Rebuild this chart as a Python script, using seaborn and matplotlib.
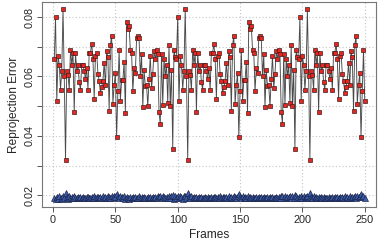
import numpy as np
import matplotlib
matplotlib.use("Agg")
import matplotlib.pyplot as plt
import seaborn as sns

# frame index, one value per frame
frames = np.arange(1, 251)

# reprojection error of the first method (red squares)
error_red = [
    0.0660, 0.0800, 0.0516, 0.0670, 0.0640, 0.0556, 0.0620, 0.0827, 0.0600, 0.0320,
    0.0620, 0.0606, 0.0556, 0.0690, 0.0640, 0.0680, 0.0480, 0.0680, 0.0620, 0.0640,
    0.0580, 0.0556, 0.0640, 0.0640, 0.0620, 0.0590, 0.0630, 0.0556, 0.0680, 0.0680,
    0.0710, 0.0660, 0.0525, 0.0670, 0.0680, 0.0610, 0.0585, 0.0545, 0.0565, 0.0585,
    0.0647, 0.0570, 0.0685, 0.0665, 0.0485, 0.0705, 0.0738, 0.0508, 0.0570, 0.0612,
    0.0395, 0.0550, 0.0690, 0.0518, 0.0587, 0.0587, 0.0650, 0.0478, 0.0782, 0.0760,
    0.0770, 0.0690, 0.0680, 0.0550, 0.0630, 0.0612, 0.0728, 0.0738, 0.0730, 0.0600,
    0.0675, 0.0497, 0.0622, 0.0568, 0.0570, 0.0500, 0.0590, 0.0670, 0.0560, 0.0610,
    0.0685, 0.0660, 0.0690, 0.0675, 0.0480, 0.0440, 0.0675, 0.0505, 0.0660, 0.0600,
    0.0640, 0.0510, 0.0705, 0.0500, 0.0623, 0.0356, 0.0690, 0.0665, 0.0660, 0.0800,
    0.0516, 0.0670, 0.0640, 0.0556, 0.0620, 0.0827, 0.0600, 0.0320, 0.0620, 0.0606,
    0.0556, 0.0690, 0.0640, 0.0680, 0.0480, 0.0680, 0.0620, 0.0640, 0.0580, 0.0556,
    0.0640, 0.0640, 0.0620, 0.0590, 0.0630, 0.0556, 0.0680, 0.0680, 0.0710, 0.0660,
    0.0525, 0.0670, 0.0680, 0.0610, 0.0585, 0.0545, 0.0565, 0.0585, 0.0647, 0.0570,
    0.0685, 0.0665, 0.0485, 0.0705, 0.0738, 0.0508, 0.0570, 0.0612, 0.0395, 0.0550,
    0.0690, 0.0518, 0.0587, 0.0587, 0.0650, 0.0478, 0.0782, 0.0760, 0.0770, 0.0690,
    0.0680, 0.0550, 0.0630, 0.0612, 0.0728, 0.0738, 0.0730, 0.0600, 0.0675, 0.0497,
    0.0622, 0.0568, 0.0570, 0.0500, 0.0590, 0.0670, 0.0560, 0.0610, 0.0685, 0.0660,
    0.0690, 0.0675, 0.0480, 0.0440, 0.0675, 0.0505, 0.0660, 0.0600, 0.0640, 0.0510,
    0.0705, 0.0500, 0.0623, 0.0356, 0.0690, 0.0665, 0.0660, 0.0800, 0.0516, 0.0670,
    0.0640, 0.0556, 0.0620, 0.0827, 0.0600, 0.0320, 0.0620, 0.0606, 0.0556, 0.0690,
    0.0640, 0.0680, 0.0480, 0.0680, 0.0620, 0.0640, 0.0580, 0.0556, 0.0640, 0.0640,
    0.0620, 0.0590, 0.0630, 0.0556, 0.0680, 0.0680, 0.0710, 0.0660, 0.0525, 0.0670,
    0.0680, 0.0610, 0.0585, 0.0545, 0.0565, 0.0585, 0.0647, 0.0570, 0.0685, 0.0665,
    0.0485, 0.0705, 0.0738, 0.0508, 0.0570, 0.0612, 0.0395, 0.0550, 0.0690, 0.0518,
]

# reprojection error of the second method (blue triangles)
error_blue = [
    0.0190, 0.0186, 0.0194, 0.0188, 0.0196, 0.0192, 0.0187, 0.0198, 0.0191, 0.0206,
    0.0194, 0.0188, 0.0196, 0.0190, 0.0193, 0.0189, 0.0197, 0.0191, 0.0192, 0.0195,
    0.0190, 0.0193, 0.0191, 0.0194, 0.0192, 0.0190, 0.0193, 0.0195, 0.0191, 0.0189,
    0.0194, 0.0192, 0.0196, 0.0190, 0.0193, 0.0195, 0.0191, 0.0194, 0.0189, 0.0196,
    0.0192, 0.0195, 0.0190, 0.0197, 0.0193, 0.0189, 0.0198, 0.0192, 0.0196, 0.0194,
    0.0205, 0.0195, 0.0189, 0.0198, 0.0193, 0.0190, 0.0196, 0.0188, 0.0194, 0.0191,
    0.0186, 0.0193, 0.0190, 0.0195, 0.0191, 0.0194, 0.0189, 0.0192, 0.0196, 0.0191,
    0.0193, 0.0190, 0.0195, 0.0192, 0.0189, 0.0194, 0.0191, 0.0193, 0.0190, 0.0194,
    0.0192, 0.0195, 0.0190, 0.0196, 0.0193, 0.0199, 0.0191, 0.0196, 0.0193, 0.0190,
    0.0195, 0.0192, 0.0197, 0.0190, 0.0198, 0.0201, 0.0188, 0.0196, 0.0192, 0.0199,
    0.0190, 0.0197, 0.0193, 0.0188, 0.0196, 0.0199, 0.0190, 0.0207, 0.0194, 0.0189,
    0.0196, 0.0191, 0.0194, 0.0190, 0.0195, 0.0192, 0.0193, 0.0190, 0.0194, 0.0191,
    0.0189, 0.0193, 0.0191, 0.0195, 0.0190, 0.0192, 0.0194, 0.0189, 0.0193, 0.0195,
    0.0191, 0.0194, 0.0192, 0.0196, 0.0190, 0.0193, 0.0195, 0.0191, 0.0194, 0.0190,
    0.0196, 0.0192, 0.0195, 0.0190, 0.0197, 0.0193, 0.0189, 0.0198, 0.0205, 0.0194,
    0.0190, 0.0197, 0.0192, 0.0195, 0.0189, 0.0196, 0.0191, 0.0193, 0.0190, 0.0194,
    0.0192, 0.0189, 0.0194, 0.0191, 0.0195, 0.0190, 0.0193, 0.0191, 0.0194, 0.0189,
    0.0192, 0.0195, 0.0190, 0.0193, 0.0191, 0.0194, 0.0190, 0.0192, 0.0195, 0.0191,
    0.0193, 0.0190, 0.0196, 0.0199, 0.0192, 0.0197, 0.0190, 0.0195, 0.0193, 0.0198,
    0.0191, 0.0196, 0.0190, 0.0201, 0.0197, 0.0189, 0.0195, 0.0192, 0.0199, 0.0191,
    0.0196, 0.0189, 0.0194, 0.0199, 0.0191, 0.0207, 0.0195, 0.0190, 0.0197, 0.0192,
    0.0194, 0.0190, 0.0195, 0.0191, 0.0193, 0.0189, 0.0194, 0.0191, 0.0192, 0.0190,
    0.0193, 0.0191, 0.0189, 0.0194, 0.0190, 0.0193, 0.0192, 0.0195, 0.0190, 0.0193,
    0.0191, 0.0195, 0.0192, 0.0196, 0.0190, 0.0194, 0.0192, 0.0197, 0.0191, 0.0195,
    0.0193, 0.0198, 0.0190, 0.0196, 0.0194, 0.0199, 0.0205, 0.0193, 0.0197, 0.0191,
]

x_ticks = [0, 50, 100, 150, 200, 250]
y_ticks = [0.02, 0.03, 0.04, 0.05, 0.06, 0.07, 0.08]
y_tick_labels = ["0.02", "", "0.04", "", "0.06", "", "0.08"]

sns.set_theme(style="white")
plt.rcParams["font.family"] = ["Liberation Sans", "DejaVu Sans"]

fig = plt.figure(figsize=(3.79, 2.48), dpi=100)
ax = fig.add_axes([0.111, 0.165, 0.881, 0.827])

# red series: squares joined by a thin grey line
sns.lineplot(x=frames, y=error_red, ax=ax, color="#4a4a4a", linewidth=0.65,
             marker="s", markersize=3.5, markerfacecolor="#e8251e",
             markeredgecolor="#402020", markeredgewidth=0.5)

# blue series: triangles
sns.lineplot(x=frames, y=error_blue, ax=ax, color="#222222", linewidth=0.6,
             marker="^", markersize=3.8, markerfacecolor="#3a5eb0",
             markeredgecolor="#1a2040", markeredgewidth=0.45)

ax.set_xlim(-8.8, 259)
ax.set_ylim(0.016, 0.0851)
ax.set_xticks(x_ticks)
ax.set_xticklabels([str(t) for t in x_ticks], fontsize=7.8)
ax.set_yticks(y_ticks)
ax.set_yticklabels(y_tick_labels, fontsize=7.8, rotation=90, va="center")

ax.grid(True, linestyle=(0, (1, 2)), color="#c4c4c4", linewidth=0.8)
ax.set_axisbelow(True)
ax.tick_params(axis="both", length=3.5, width=0.7, color="#555555",
               pad=2, bottom=True, left=True)

for side in ax.spines.values():
    side.set_color("#777777")
    side.set_linewidth(0.8)

ax.set_xlabel("Frames", fontsize=8.6, labelpad=3)
ax.set_ylabel("Reprojection Error", fontsize=8.6, labelpad=3)

plt.savefig("out.png", dpi=100)
